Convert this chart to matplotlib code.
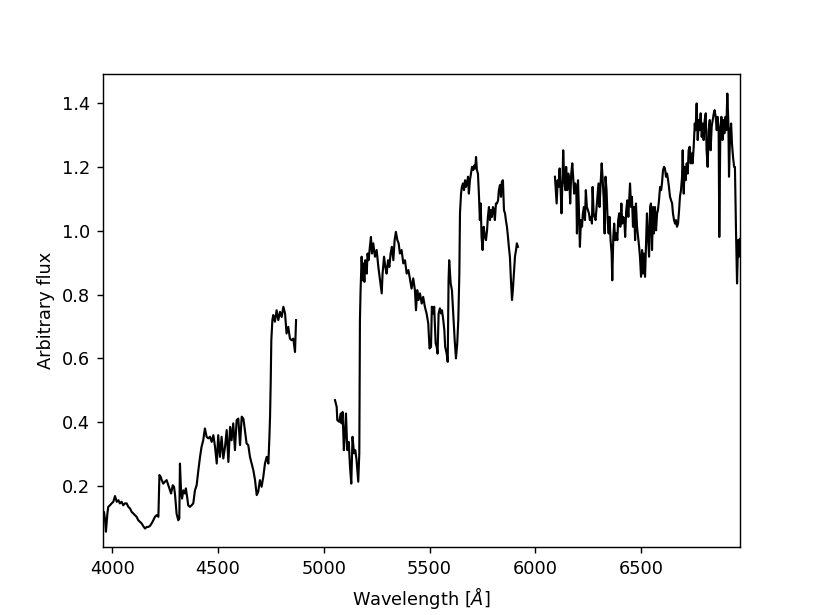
import numpy as np
import matplotlib
matplotlib.use('Agg')
import matplotlib.pyplot as plt

# blue arm
wave_b = [3957, 3961, 3966, 3970, 3977, 3981, 3989, 3997, 4005, 4013, 4021, 4029, 4036, 4044, 4052, 4060,
          4068, 4076, 4084, 4092, 4100, 4107, 4115, 4123, 4131, 4139, 4147, 4155, 4163, 4170, 4178, 4186,
          4194, 4202, 4210, 4218, 4223, 4229, 4234, 4241, 4249, 4257, 4265, 4273, 4278, 4286, 4292, 4297,
          4304, 4312, 4317, 4320, 4325, 4330, 4336, 4344, 4348, 4355, 4359, 4367, 4375, 4383, 4391, 4399,
          4407, 4415, 4422, 4430, 4438, 4446, 4454, 4462, 4470, 4478, 4486, 4494, 4501, 4509, 4517, 4525,
          4533, 4541, 4549, 4557, 4564, 4572, 4580, 4588, 4596, 4604, 4612, 4620, 4627, 4635, 4643, 4651,
          4659, 4667, 4675, 4683, 4690, 4698, 4706, 4714, 4722, 4730, 4738, 4743, 4746, 4749, 4752, 4757,
          4761, 4769, 4777, 4785, 4793, 4801, 4809, 4817, 4824, 4832, 4840, 4848, 4856, 4864, 4869]
flux_b = [0.105, 0.118, 0.092, 0.056, 0.113, 0.134, 0.139, 0.145, 0.150, 0.168, 0.150, 0.155, 0.145, 0.150, 0.139, 0.145,
          0.145, 0.134, 0.129, 0.118, 0.113, 0.108, 0.103, 0.092, 0.087, 0.082, 0.073, 0.066, 0.071, 0.071, 0.074, 0.082,
          0.092, 0.103, 0.108, 0.103, 0.234, 0.228, 0.218, 0.207, 0.213, 0.218, 0.202, 0.186, 0.176, 0.202, 0.197, 0.171,
          0.113, 0.092, 0.098, 0.270, 0.186, 0.160, 0.186, 0.176, 0.192, 0.160, 0.139, 0.134, 0.139, 0.145, 0.186, 0.202,
          0.249, 0.291, 0.322, 0.343, 0.380, 0.354, 0.349, 0.354, 0.338, 0.359, 0.322, 0.270, 0.359, 0.291, 0.354, 0.286,
          0.322, 0.375, 0.275, 0.385, 0.343, 0.396, 0.312, 0.406, 0.411, 0.328, 0.417, 0.411, 0.375, 0.333, 0.328, 0.291,
          0.270, 0.249, 0.218, 0.171, 0.181, 0.218, 0.197, 0.228, 0.270, 0.291, 0.270, 0.354, 0.417, 0.521, 0.657, 0.720,
          0.736, 0.715, 0.751, 0.720, 0.746, 0.730, 0.762, 0.741, 0.678, 0.699, 0.662, 0.657, 0.662, 0.620, 0.720]

# green arm
wave_g = [5053, 5061, 5064, 5073, 5080, 5084, 5089, 5095, 5100, 5105, 5111, 5118, 5124, 5130, 5136, 5143,
          5149, 5155, 5163, 5168, 5171, 5174, 5179, 5184, 5187, 5192, 5196, 5203, 5207, 5212, 5218, 5223,
          5228, 5234, 5242, 5250, 5258, 5266, 5274, 5278, 5285, 5291, 5297, 5304, 5310, 5316, 5322, 5329,
          5335, 5341, 5348, 5354, 5360, 5368, 5376, 5384, 5392, 5400, 5407, 5415, 5423, 5431, 5436, 5442,
          5448, 5455, 5463, 5470, 5478, 5486, 5494, 5500, 5507, 5511, 5518, 5522, 5529, 5534, 5538, 5543,
          5549, 5554, 5559, 5565, 5570, 5574, 5581, 5586, 5590, 5593, 5600, 5606, 5612, 5619, 5625, 5631,
          5636, 5641, 5644, 5649, 5653, 5658, 5663, 5668, 5672, 5677, 5682, 5686, 5691, 5696, 5701, 5707,
          5712, 5716, 5720, 5724, 5729, 5734, 5738, 5742, 5746, 5751, 5756, 5762, 5767, 5772, 5776, 5781,
          5786, 5790, 5795, 5800, 5805, 5809, 5814, 5819, 5824, 5828, 5833, 5838, 5842, 5847, 5852, 5857,
          5861, 5866, 5871, 5875, 5880, 5885, 5890, 5894, 5899, 5904, 5909, 5913, 5918]
flux_g = [0.469, 0.448, 0.406, 0.401, 0.427, 0.396, 0.432, 0.312, 0.364, 0.427, 0.312, 0.338, 0.260, 0.207, 0.354, 0.302,
          0.312, 0.281, 0.213, 0.302, 0.720, 0.814, 0.919, 0.845, 0.898, 0.840, 0.908, 0.866, 0.929, 0.908, 0.950, 0.981,
          0.929, 0.961, 0.919, 0.940, 0.887, 0.845, 0.804, 0.866, 0.919, 0.887, 0.866, 0.908, 0.887, 0.929, 0.950, 0.908,
          0.971, 0.997, 0.971, 0.961, 0.929, 0.940, 0.898, 0.908, 0.866, 0.877, 0.851, 0.819, 0.851, 0.814, 0.751, 0.814,
          0.783, 0.804, 0.772, 0.793, 0.762, 0.741, 0.710, 0.631, 0.636, 0.762, 0.741, 0.762, 0.647, 0.636, 0.615, 0.741,
          0.757, 0.741, 0.751, 0.720, 0.689, 0.636, 0.615, 0.589, 0.845, 0.908, 0.835, 0.814, 0.741, 0.657, 0.600, 0.647,
          0.720, 0.866, 1.055, 1.117, 1.138, 1.149, 1.128, 1.159, 1.138, 1.149, 1.170, 1.117, 1.159, 1.180, 1.201, 1.191,
          1.206, 1.196, 1.232, 1.191, 1.180, 1.107, 1.034, 1.086, 0.981, 0.940, 1.013, 0.981, 0.971, 1.002, 1.044, 1.075,
          1.034, 1.065, 1.044, 1.075, 1.065, 1.034, 1.086, 1.086, 1.096, 1.128, 1.144, 1.107, 1.154, 1.159, 1.065, 1.055,
          1.034, 1.013, 0.981, 0.950, 0.919, 0.845, 0.783, 0.814, 0.866, 0.919, 0.940, 0.961, 0.950]

# red arm
wave_r = [6093, 6096, 6101, 6106, 6110, 6115, 6120, 6124, 6129, 6132, 6137, 6142, 6146, 6151, 6156, 6161,
          6165, 6170, 6175, 6180, 6184, 6189, 6194, 6197, 6202, 6206, 6211, 6216, 6221, 6225, 6230, 6235,
          6239, 6244, 6249, 6254, 6258, 6263, 6268, 6271, 6276, 6280, 6285, 6290, 6295, 6299, 6304, 6309,
          6314, 6318, 6323, 6328, 6332, 6337, 6342, 6347, 6351, 6356, 6361, 6364, 6369, 6373, 6378, 6383,
          6388, 6392, 6397, 6402, 6407, 6411, 6416, 6421, 6425, 6430, 6435, 6440, 6448, 6453, 6457, 6462,
          6467, 6472, 6476, 6481, 6486, 6491, 6495, 6500, 6505, 6509, 6514, 6519, 6524, 6528, 6533, 6538,
          6543, 6547, 6552, 6557, 6561, 6566, 6571, 6576, 6580, 6585, 6590, 6595, 6599, 6604, 6609, 6613,
          6618, 6623, 6628, 6632, 6637, 6642, 6647, 6651, 6656, 6661, 6665, 6670, 6675, 6680, 6684, 6689,
          6694, 6697, 6702, 6706, 6711, 6716, 6721, 6725, 6730, 6735, 6740, 6744, 6749, 6754, 6758, 6763,
          6768, 6773, 6777, 6782, 6787, 6792, 6796, 6801, 6806, 6810, 6815, 6820, 6825, 6829, 6834, 6839,
          6844, 6848, 6853, 6858, 6862, 6867, 6870, 6875, 6880, 6885, 6889, 6894, 6899, 6903, 6908, 6913,
          6916, 6921, 6926, 6930, 6935, 6940, 6944, 6949, 6954, 6959, 6963, 6967]
flux_r = [1.170, 1.138, 1.086, 1.159, 1.138, 1.196, 1.128, 1.055, 1.170, 1.253, 1.159, 1.128, 1.201, 1.128, 1.180, 1.159,
          1.086, 1.180, 1.212, 1.159, 1.117, 1.149, 1.128, 0.992, 1.159, 1.075, 0.950, 1.034, 1.013, 1.055, 1.075, 1.034,
          1.128, 1.075, 1.065, 1.055, 1.034, 1.044, 1.023, 1.138, 1.055, 1.044, 1.034, 1.075, 1.117, 1.149, 1.075, 1.149,
          1.212, 1.170, 1.107, 0.992, 1.170, 1.128, 1.034, 0.992, 1.044, 0.971, 0.929, 0.845, 0.981, 1.023, 0.971, 0.992,
          0.971, 1.034, 1.055, 1.013, 1.086, 1.023, 1.044, 1.034, 0.981, 1.065, 1.096, 1.044, 1.149, 1.075, 1.107, 1.013,
          1.075, 0.971, 1.086, 1.013, 0.981, 0.950, 0.919, 0.856, 0.940, 0.866, 0.929, 0.856, 0.961, 1.055, 0.981, 0.919,
          1.075, 1.086, 0.940, 1.075, 0.992, 1.075, 1.002, 1.055, 1.065, 1.096, 1.138, 1.128, 1.149, 1.191, 1.201, 1.196,
          1.170, 1.180, 1.159, 1.138, 1.107, 1.096, 1.086, 1.055, 1.034, 1.023, 1.034, 1.013, 1.023, 1.065, 1.107, 1.128,
          1.170, 1.253, 1.117, 1.201, 1.159, 1.212, 1.180, 1.253, 1.264, 1.212, 1.243, 1.212, 1.264, 1.337, 1.316, 1.400,
          1.285, 1.348, 1.316, 1.369, 1.295, 1.337, 1.285, 1.348, 1.369, 1.253, 1.201, 1.316, 1.348, 1.253, 1.327, 1.348,
          1.369, 1.379, 1.358, 1.316, 1.358, 1.316, 0.981, 1.316, 1.358, 1.285, 1.348, 1.306, 1.358, 1.316, 1.431, 1.337,
          1.170, 1.306, 1.337, 1.274, 1.232, 1.201, 1.201, 1.002, 0.835, 0.971, 0.919, 0.975]

fig, ax = plt.subplots(figsize=(822 / 128, 615 / 128), dpi=128)

for w, f in [(wave_b, flux_b), (wave_g, flux_g), (wave_r, flux_r)]:
    ax.plot(w, f, color='k', linewidth=1.2)

ax.set_xlim(3955, 6967)
ax.set_ylim(0.007, 1.493)
ax.set_xlabel(r'Wavelength [$\AA$]')
ax.set_ylabel('Arbitrary flux')

plt.savefig('out.png', dpi=128)
